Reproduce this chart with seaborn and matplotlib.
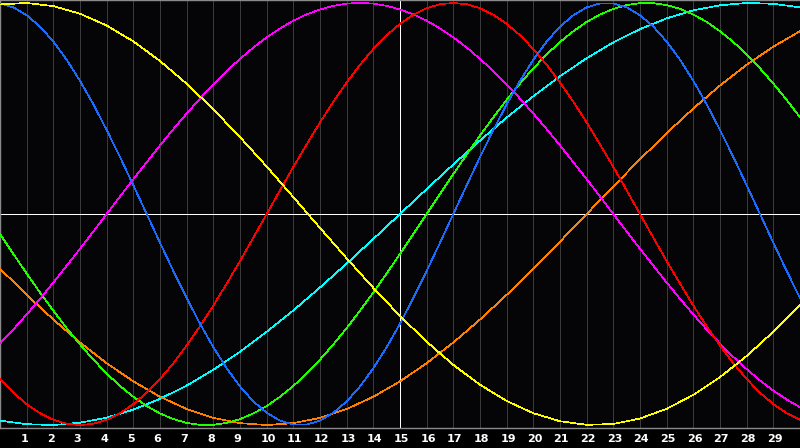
import numpy as np
import pandas as pd
import matplotlib
matplotlib.use("Agg")
import matplotlib.pyplot as plt
import matplotlib.transforms as mtransforms
import seaborn as sns

# values; fast cycles every half day, slow ones every day
half_days = [i / 2 for i in range(61)]
days = list(range(31))

physical = [0.998, 0.979, 0.942, 0.888, 0.817, 0.731, 0.631, 0.520, 0.398, 0.270,
            0.136, 0.0, -0.136, -0.270, -0.398, -0.520, -0.631, -0.731, -0.817, -0.888,
            -0.942, -0.979, -0.998, -0.998, -0.979, -0.942, -0.888, -0.817, -0.731, -0.631,
            -0.520, -0.398, -0.270, -0.136, 0.0, 0.136, 0.270, 0.398, 0.520, 0.631,
            0.731, 0.817, 0.888, 0.942, 0.979, 0.998, 0.998, 0.979, 0.942, 0.888,
            0.817, 0.731, 0.631, 0.520, 0.398, 0.270, 0.136, 0.0, -0.136, -0.270,
            -0.398]
emotional = [-0.782, -0.847, -0.901, -0.944, -0.975, -0.994, -1.0, -0.994, -0.975, -0.944,
             -0.901, -0.847, -0.782, -0.707, -0.623, -0.532, -0.434, -0.330, -0.223, -0.112,
             0.0, 0.112, 0.223, 0.330, 0.434, 0.532, 0.623, 0.707, 0.782, 0.847,
             0.901, 0.944, 0.975, 0.994, 1.0, 0.994, 0.975, 0.944, 0.901, 0.847,
             0.782, 0.707, 0.623, 0.532, 0.434, 0.330, 0.223, 0.112, 0.0, -0.112,
             -0.223, -0.330, -0.434, -0.532, -0.623, -0.707, -0.782, -0.847, -0.901, -0.944,
             -0.975]
intellectual = [-0.095, -0.189, -0.282, -0.372, -0.458, -0.541, -0.618, -0.690, -0.756, -0.815,
                -0.866, -0.910, -0.945, -0.972, -0.990, -0.999, -0.999, -0.990, -0.972, -0.945,
                -0.910, -0.866, -0.815, -0.756, -0.690, -0.618, -0.541, -0.458, -0.372, -0.282,
                -0.189, -0.095, 0.0, 0.095, 0.189, 0.282, 0.372, 0.458, 0.541, 0.618,
                0.690, 0.756, 0.815, 0.866, 0.910, 0.945, 0.972, 0.990, 0.999, 0.999,
                0.990, 0.972, 0.945, 0.910, 0.866, 0.815, 0.756, 0.690, 0.618, 0.541,
                0.458]
intuitive = [-0.614, -0.547, -0.476, -0.402, -0.325, -0.245, -0.165, -0.083, 0.0, 0.083,
             0.165, 0.245, 0.325, 0.402, 0.476, 0.547, 0.614, 0.677, 0.735, 0.789,
             0.837, 0.879, 0.916, 0.946, 0.969, 0.986, 0.997, 1.0, 0.997, 0.986,
             0.969, 0.946, 0.916, 0.879, 0.837, 0.789, 0.735, 0.677, 0.614, 0.547,
             0.476, 0.402, 0.325, 0.245, 0.165, 0.083, 0.0, -0.083, -0.165, -0.245,
             -0.325, -0.402, -0.476, -0.547, -0.614, -0.677, -0.735, -0.789, -0.837, -0.879,
             -0.916]
aesthetic = [0.993, 1.0, 0.985, 0.949, 0.893, 0.818, 0.725, 0.617, 0.496, 0.364, 0.225,
             0.080, -0.066, -0.210, -0.350, -0.483, -0.605, -0.715, -0.809, -0.886, -0.944,
             -0.982, -0.999, -0.995, -0.969, -0.923, -0.857, -0.773, -0.673, -0.558, -0.431]
awareness = [-0.259, -0.383, -0.5, -0.609, -0.707, -0.793, -0.866, -0.924, -0.966, -0.991, -1.0,
             -0.991, -0.966, -0.924, -0.866, -0.793, -0.707, -0.609, -0.5, -0.383, -0.259,
             -0.131, 0.0, 0.131, 0.259, 0.383, 0.5, 0.609, 0.707, 0.793, 0.866]
spiritual = [-0.979, -0.996, -1.0, -0.989, -0.965, -0.927, -0.876, -0.813, -0.738, -0.653, -0.558,
             -0.457, -0.348, -0.235, -0.118, 0.0, 0.118, 0.235, 0.348, 0.457, 0.558,
             0.653, 0.738, 0.813, 0.876, 0.927, 0.965, 0.989, 1.0, 0.996, 0.979]

day_labels = [str(d) for d in range(1, 30)]

# drawing order: first is at the back
series = [
    ("spiritual", days, spiritual),
    ("awareness", days, awareness),
    ("intellectual", half_days, intellectual),
    ("intuitive", half_days, intuitive),
    ("emotional", half_days, emotional),
    ("physical", half_days, physical),
    ("aesthetic", days, aesthetic),
]
colors = {
    "physical": "#1a6cff",
    "emotional": "#ff0000",
    "intellectual": "#22ff00",
    "intuitive": "#ff00ff",
    "aesthetic": "#ffff00",
    "awareness": "#ff8000",
    "spiritual": "#00ffff",
}

df = pd.concat([pd.DataFrame({"day": x, "value": v, "cycle": name})
                for name, x, v in series], ignore_index=True)

sns.set_theme(style="dark", rc={"lines.linewidth": 0.5})

fig = plt.figure(figsize=(8, 4.48), dpi=100, facecolor="black")
ax = fig.add_axes([0, 20 / 448, 1, 428 / 448])
ax.set_facecolor("#050508")

# day grid
for d in range(1, 30):
    c = "white" if d == 15 else "#3a3a3a"
    ax.axvline(d, color=c, linewidth=0.6, antialiased=False, zorder=1)
ax.axhline(0, color="white", linewidth=0.6, antialiased=False, zorder=1)

sns.lineplot(data=df, x="day", y="value", hue="cycle", palette=colors,
             legend=False, ax=ax, linewidth=0.5, antialiased=False, zorder=3,
             estimator=None, sort=False)

ax.set_xlim(0, 30)
ax.set_ylim(-1.014, 1.014)
ax.set_xticks([])
ax.set_yticks([])
ax.set_xlabel("")
ax.set_ylabel("")
ax.grid(False)

for side in ["left", "top", "bottom"]:
    ax.spines[side].set_visible(True)
    ax.spines[side].set_color("#8a8a8a")
    ax.spines[side].set_linewidth(1.0)
ax.spines["right"].set_visible(False)

trans = mtransforms.blended_transform_factory(ax.transData, ax.transAxes)
for i, lab in enumerate(day_labels):
    ax.text(i + 1 - 0.24, -10.5 / 428, lab, transform=trans, color="white",
            fontsize=8, fontweight="bold", ha="left", va="center",
            family="DejaVu Sans", clip_on=False)

fig.savefig("out.png", dpi=100, facecolor=fig.get_facecolor())
